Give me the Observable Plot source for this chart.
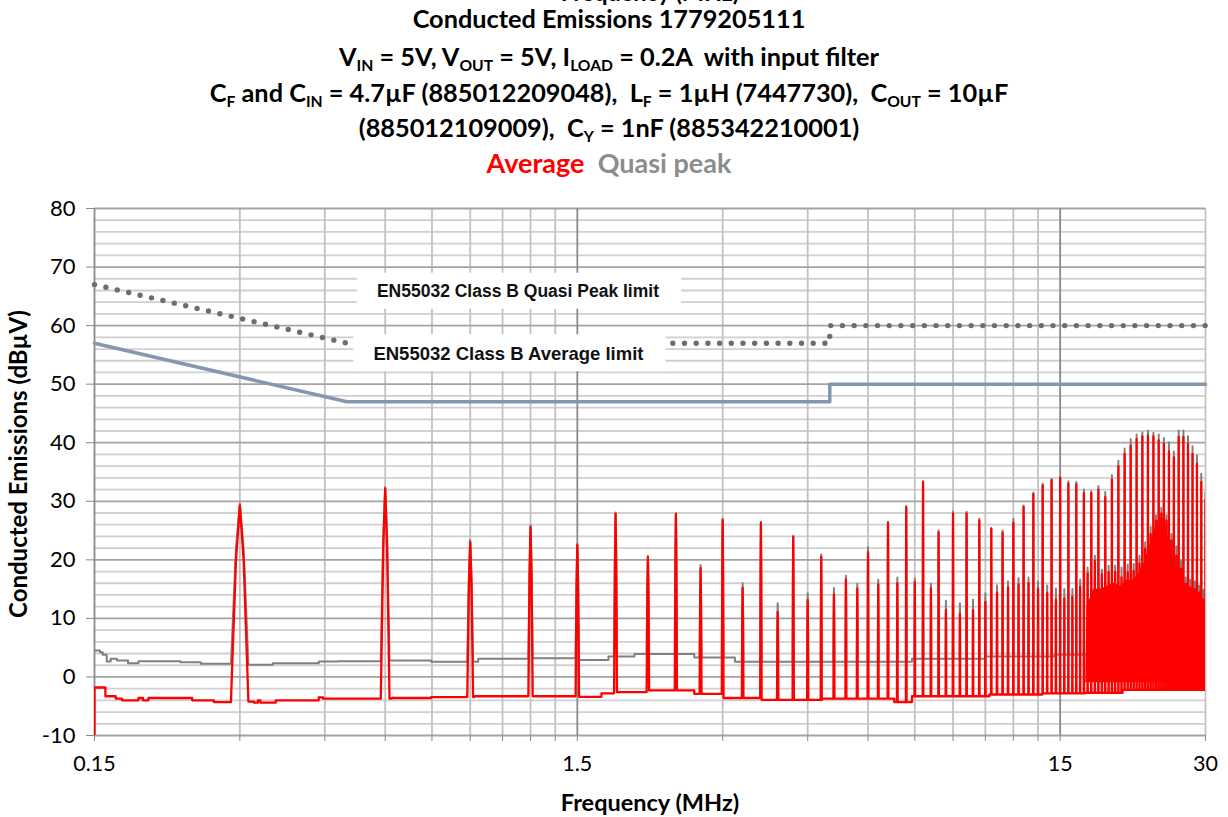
<!DOCTYPE html>
<html><head><meta charset="utf-8">
<script src="https://cdn.jsdelivr.net/npm/d3@7"></script>
<script src="https://cdn.jsdelivr.net/npm/@observablehq/plot@0.6"></script>
<style>
body{margin:0;background:#fff;width:1228px;height:817px;overflow:hidden;font-family:Lato,sans-serif;}
#head{position:relative;height:190px;overflow:hidden;}
.t{position:absolute;left:0;width:1218px;text-align:center;font-weight:bold;font-size:25.3px;color:#000;white-space:pre;line-height:1;}
.t sub{font-size:62%;vertical-align:baseline;position:relative;top:0.32em;}
#chart{position:absolute;top:190px;left:0;}
</style></head><body>
<div id="head">
  <div class="t" style="top:-19px;left:0;width:1300px;font-size:23.5px;">Frequency (MHz)</div>
  <div class="t" style="top:6px;">Conducted Emissions 1779205111</div>
  <div class="t" style="top:44px;">V<sub>IN</sub> = 5V, V<sub>OUT</sub> = 5V, I<sub>LOAD</sub> = 0.2A  with input filter</div>
  <div class="t" style="top:80px;">C<sub>F</sub> and C<sub>IN</sub> = 4.7µF (885012209048),  L<sub>F</sub> = 1µH (7447730),  C<sub>OUT</sub> = 10µF</div>
  <div class="t" style="top:115px;">(885012109009),  C<sub>Y</sub> = 1nF (885342210001)</div>
  <div class="t" style="top:149px;font-size:27px;"><span style="color:#ff0000">Average</span>  <span style="color:#8c8c8c">Quasi peak</span></div>
</div>
<div id="chart"></div>
<script>
// ---- axis ticks ----
const yMajor = [-10, 0, 10, 20, 30, 40, 50, 60, 70, 80];
const yMinor = [-8, -6, -4, -2, 2, 4, 6, 8, 12, 14, 16, 18, 22, 24, 26, 28, 32, 34, 36, 38, 42, 44, 46, 48, 52, 54, 56, 58, 62, 64, 66, 68, 72, 74, 76, 78];
const xMajor = [0.15, 1.5, 15];
const xMinor = [0.3, 0.45, 0.6, 0.75, 0.9, 1.05, 1.2, 1.35, 3, 4.5, 6, 7.5, 9, 10.5, 12, 13.5, 30];
const xLabels = [0.15, 1.5, 15, 30];

// ---- harmonic peaks (MHz, dBµV) ----
const harmF = [0.3,0.6,0.9,1.2,1.5,1.8,2.1,2.4,2.7,3.0,
3.3,3.6,3.9,4.2,4.5,4.8,5.1,5.4,5.7,6.0,
6.3,6.6,6.9,7.2,7.5,7.8,8.1,8.4,8.7,9.0,
9.3,9.6,9.9,10.2,10.5,10.8,11.1,11.4,11.7,12.0,
12.3,12.6,12.9,13.2,13.5,13.8,14.1,14.4,14.7,15.0,
15.3,15.6,15.9,16.2,16.5,16.8,17.1,17.4,17.7,18.0,
18.3,18.6,18.9,19.2,19.5,19.8,20.1,20.4,20.7,21.0,
21.3,21.6,21.9,22.2,22.5,22.8,23.1,23.4,23.7,24.0,
24.3,24.6,24.9,25.2,25.5,25.8,26.1,26.4,26.7,27.0,
27.3,27.6,27.9,28.2,28.5,28.8,29.1,29.4,29.7,30.0];
const avgPeak = [29.3,32.2,23.0,25.6,22.5,27.9,20.4,27.8,18.6,26.8,
15.2,26.3,11.1,23.9,13.1,20.5,14.1,16.6,15.1,21.3,
15.8,26.3,16.0,29.0,16.2,33.3,15.1,24.7,11.4,27.9,
10.8,27.9,11.4,26.7,12.8,25.3,14.4,24.6,15.3,26.3,
15.8,29.0,16.0,31.2,15.1,32.7,14.3,33.6,13.2,34.0,
13.4,33.0,13.7,32.9,15.4,31.4,17.7,31.4,19.8,32.0,
17.5,30.7,17.9,33.7,17.9,36.0,17.0,38.1,17.9,39.5,
18.1,40.6,19.4,41.1,21.9,41.2,24.4,41.1,26.7,40.4,
27.9,39.8,26.7,38.5,23.3,37.5,20.7,41.0,18.5,41.0,
15.9,39.8,15.3,38.1,15.0,36.4,14.4,33.3,13.2,30.3];
const qpPeak = [29.6,32.4,23.4,25.9,22.8,28.1,20.7,28.0,19.1,27.0,
16.0,26.5,12.6,24.1,14.3,20.9,15.2,17.3,15.9,22.2,
16.6,26.5,17.0,29.2,16.8,33.4,15.9,25.0,13.0,28.2,
12.6,28.2,13.2,27.0,14.3,25.5,15.6,25.0,16.3,27.0,
16.9,29.3,17.0,31.5,16.3,33.0,15.6,33.8,15.1,34.2,
15.0,33.4,15.0,33.3,16.6,32.0,18.7,31.7,20.7,32.6,
18.3,31.6,19.0,34.5,19.0,36.9,18.7,39.0,19.2,40.6,
19.3,41.4,20.7,41.8,23.0,42.1,25.6,41.7,27.6,41.4,
28.9,40.8,27.6,40.1,24.4,38.5,22.3,42.1,19.8,42.1,
17.0,41.1,16.6,39.4,16.3,37.8,15.6,34.7,14.9,31.6];

// ---- noise floors (step levels) ----
const avgFloorF = [0.15,0.15,0.158,0.166,0.171,0.185,0.189,0.194,0.239,0.265,0.310,0.321,0.327,0.331,0.356,0.437,0.446,0.62,0.747,0.917,1.505,1.683,1.79,2.10,2.62,2.99,3.61,4.82,6.8,7.4,10.7,13.8,16.9,20.2,30];
const avgFloorV = [-10,-1.8,-3.3,-3.7,-4.0,-3.6,-4.0,-3.6,-4.0,-4.3,-4.2,-4.4,-4.0,-4.4,-4.0,-3.5,-3.7,-3.6,-3.45,-3.3,-3.4,-2.8,-2.6,-2.3,-2.9,-3.6,-3.9,-3.7,-4.3,-3.3,-3.0,-2.8,-2.7,-2.2,-2.2];
const qpFloorF = [0.15,0.154,0.156,0.159,0.162,0.167,0.176,0.185,0.226,0.249,0.312,0.351,0.437,0.479,0.611,0.747,0.935,1.204,1.505,1.74,1.97,2.62,3.18,7.40,10.5,14.6,30];
const qpFloorV = [4.5,4.2,3.8,2.65,3.1,2.8,2.35,2.7,2.5,2.25,2.1,2.35,2.65,2.7,2.8,2.6,3.1,3.2,2.9,3.5,3.9,3.3,2.6,3.1,3.5,3.8,3.8];

// ---- dense emission band 17-30 MHz (upper envelope of the solid red) ----
const bandF = [16.95,17.05,17.6,18.2,18.8,19.4,20.0,20.6,21.2,21.8,22.4,22.9,23.3,23.7,24.1,24.5,24.9,25.3,25.7,26.1,26.5,27.0,27.6,28.2,28.8,29.4,30.0];
const bandTop = [-1,12,15,15,15.5,16,15.5,16.5,16.5,17.5,19.5,22,24,26,27,27,25.5,22.5,20.5,18.5,16.5,15,14,13.5,13,12,11.5];
const bandBase = -1;

// ---- EN55032 class B limits ----
const limF = [0.15, 0.5, 5, 5, 30];
const qpLimV = [67, 57, 57, 60, 60];
const avgLimV = [57, 47, 47, 50, 50];
const limitLabels = [
  {f: 1.13, v: 65.8, size: 17.5, label: "EN55032 Class B Quasi Peak limit"},
  {f: 1.08, v: 55.2, size: 18.5, label: "EN55032 Class B Average limit"}
];

function buildTrace(floorF, floorV, pkF, pkV) {
  const W = 0.0125, S = 0.0055, K = 0.72;
  const floorAt = f => { let v = floorV[0]; for (let i = 0; i < floorF.length; i++) { if (floorF[i] <= f) v = floorV[i]; else break; } return v; };
  const inSpike = f => pkF.some(p => Math.abs(f - p) < W);
  const pts = [];
  floorF.forEach((f, i) => {
    if (inSpike(f)) return;
    if (i > 0) pts.push({f, v: floorV[i - 1]});
    pts.push({f, v: floorV[i]});
  });
  pkF.forEach((p, i) => {
    const bl = floorAt(p - W), br = floorAt(p + W), pk = pkV[i];
    pts.push({f: p - W, v: bl}, {f: p - S, v: bl + K * (pk - bl)}, {f: p, v: pk},
             {f: p + S, v: br + K * (pk - br)}, {f: p + W, v: br});
  });
  pts.sort((a, b) => a.f - b.f);
  return pts;
}

const avgTrace = buildTrace(avgFloorF, avgFloorV, harmF, avgPeak);
const qpTrace = buildTrace(qpFloorF, qpFloorV, harmF, qpPeak);
const band = bandF.map((f, i) => ({f, v: bandTop[i]}));
const qpLim = limF.map((f, i) => ({f, v: qpLimV[i]}));
const avgLim = limF.map((f, i) => ({f, v: avgLimV[i]}));
const xTicks = [...xMajor, ...xMinor];
const xLabelSet = new Set(xLabels);

const chart = Plot.plot({
  width: 1228, height: 627,
  marginLeft: 94, marginRight: 23, marginTop: 18, marginBottom: 82,
  x: {type: "log", domain: [0.15, 30], label: null},
  y: {domain: [-10, 80], label: null},
  style: {fontFamily: "Lato, sans-serif", background: "#fff", overflow: "visible"},
  marks: [
    Plot.ruleY(yMinor, {stroke: "#d0d0d0", strokeWidth: 1.8}),
    Plot.ruleX(xMinor, {stroke: "#c2c2c2", strokeWidth: 1.8}),
    Plot.ruleY(yMajor, {stroke: "#a3a3a3", strokeWidth: 1.8}),
    Plot.ruleX(xMajor, {stroke: "#8a8a8a", strokeWidth: 1.8}),
    Plot.line(qpTrace, {x: "f", y: "v", stroke: "#808080", strokeWidth: 2, clip: true}),
    Plot.areaY(band, {x: "f", y1: bandBase, y2: "v", fill: "#ff0000", clip: true}),
    Plot.line(avgTrace, {x: "f", y: "v", stroke: "#ff0000", strokeWidth: 2.3, clip: true}),
    Plot.line(qpLim, {x: "f", y: "v", stroke: "#716c6c", strokeWidth: 5.4, strokeDasharray: "0 11.7", strokeLinecap: "round"}),
    Plot.line(avgLim, {x: "f", y: "v", stroke: "#8497b0", strokeWidth: 3.5}),
    Plot.text(limitLabels, {x: "f", y: "v", text: "label", fontSize: "size", fontFamily: "Liberation Sans, Arial, sans-serif", fontWeight: "bold", fill: "#111"}),
    Plot.axisY({ticks: yMajor, tickSize: 8, tickPadding: 11, fontSize: 22, stroke: "#8a8a8a", fill: "#000", tickFormat: d => String(d), label: null}),
    Plot.axisX({ticks: xTicks, tickSize: 6, tickPadding: 14, fontSize: 21.5, stroke: "#8a8a8a", fill: "#000", tickFormat: d => xLabelSet.has(d) ? String(d) : "", label: null}),
    Plot.text(["Frequency (MHz)"], {frameAnchor: "bottom", textAnchor: "middle", lineAnchor: "middle", dy: 68, fontWeight: "bold", fontSize: 23.5, fill: "#000"}),
    Plot.text(["Conducted Emissions (dBµV)"], {frameAnchor: "left", textAnchor: "middle", lineAnchor: "middle", dx: -75, dy: -8, rotate: -90, fontWeight: "bold", fontSize: 24, fill: "#000"})
  ]
});
document.getElementById("chart").append(chart);

// white boxes behind the limit labels
chart.querySelectorAll("text").forEach(t => {
  if (!t.textContent.startsWith("EN55032")) return;
  const b = t.getBBox();
  const r = document.createElementNS("http://www.w3.org/2000/svg", "rect");
  r.setAttribute("x", b.x - 20);
  r.setAttribute("y", b.y - 8.5);
  r.setAttribute("width", b.width + 42);
  r.setAttribute("height", b.height + 16);
  r.setAttribute("fill", "#fff");
  r.setAttribute("stroke", "none");
  if (t.getAttribute("transform")) r.setAttribute("transform", t.getAttribute("transform"));
  t.parentNode.insertBefore(r, t);
});
</script>
</body></html>
